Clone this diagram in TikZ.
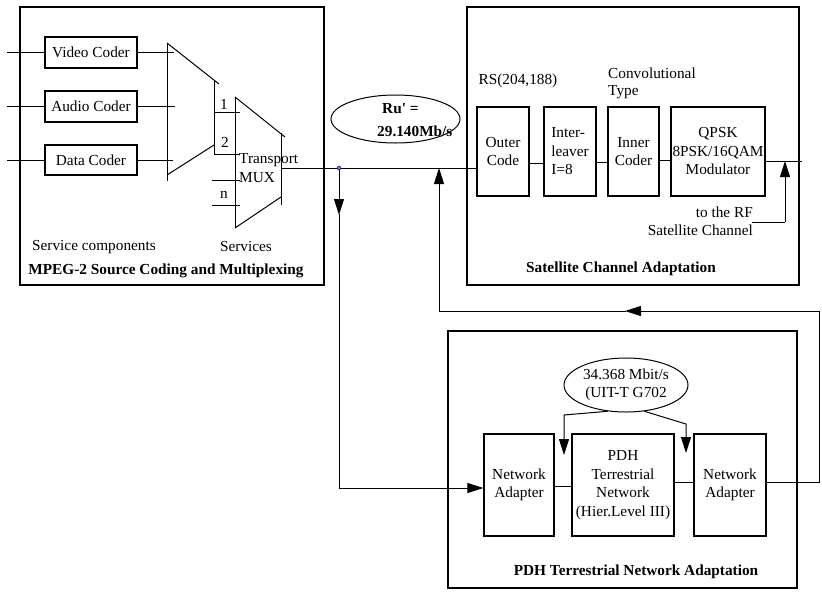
\documentclass[tikz,border=0pt]{standalone}
\usepackage{fontspec}
\setmainfont{Liberation Serif}
\usetikzlibrary{arrows.meta,shapes.geometric}
\begin{document}
\begin{tikzpicture}[x=1pt,y=-1pt,
 every node/.style={font=\fontsize{15.3}{18.5}\selectfont, inner sep=0pt},
 box/.style={draw, line width=1.2pt, align=center},
 frame/.style={draw, line width=1.3pt},
 ln/.style={line width=1pt},
 tip/.style={-{Triangle[length=16pt,width=10pt]}},
 bf/.style={font=\fontsize{15.3}{18.5}\selectfont\bfseries}]
\useasboundingbox (0,0) rectangle (822,592);

% frames
\node[frame, minimum width=304pt, minimum height=278pt] (fL) at (172,146) {};
\node[frame, minimum width=332pt, minimum height=278pt] (fS) at (633,146) {};
\node[frame, minimum width=349pt, minimum height=257pt] (fP) at (622.5,459.5) {};

% source coders
\node[box, minimum width=92pt, minimum height=31pt] (video) at (91,52.5) {Video Coder};
\node[box, minimum width=92pt, minimum height=31pt] (audio) at (91,106.5) {Audio Coder};
\node[box, minimum width=92pt, minimum height=30pt] (data) at (91,160) {Data Coder};
\coordinate (iv) at (7,52.5);
\coordinate (ia) at (7,106.5);
\coordinate (id) at (7,160);
\draw[ln] (iv) -- (video.west);
\draw[ln] (ia) -- (audio.west);
\draw[ln] (id) -- (data.west);
\draw[ln] (video.east) -- ++(36,0);
\draw[ln] (audio.east) -- ++(37,0);
\draw[ln] (data.east) -- ++(35,0);

% first multiplexer
\draw[ln] (167,43) -- (167,181);
\draw[ln] (167,43) -- (219,84);
\draw[ln] (214,80) -- (214,154);
\draw[ln] (167,175) -- (214,145);
\draw[ln] (214,112) -- (240,112);
\draw[ln] (214,154) -- (240,154);
% transport mux
\draw[ln] (235,97) -- (235,228);
\draw[ln] (235,97) -- (285,137);
\draw[ln] (281,133) -- (281,205);
\draw[ln] (235,228) -- (281,197);
\draw[ln] (212,180) -- (240,180);
\draw[ln] (212,205) -- (240,205);
\coordinate (muxout) at (281,168);

\node (n1) at (224,104) {1};
\node (n2) at (225,142) {2};
\node (nn) at (224,195) {n};
\node[anchor=west] (tr) at (239,160) {Transport};
\node[anchor=west] (mx) at (239,178) {MUX};
\node (sc) at (94,247) {Service components};
\node (sv) at (246,247) {Services};
\node[bf] (tL) at (166,271) {MPEG-2 Source Coding and Multiplexing};

% satellite chain
\node[box, minimum width=52pt, minimum height=89pt] (outer) at (503,151.5) {Outer\\Code};
\node[box, minimum width=52pt, minimum height=89pt, align=left] (inter) at (570,151.5) {Inter-\\leaver\\I=8};
\node[box, minimum width=51pt, minimum height=89pt] (inner) at (633.5,151.5) {Inner\\Coder};
\node[box, minimum width=94pt, minimum height=89pt] (qpsk) at (718,151.5) {QPSK\\8PSK/16QAM\\Modulator};
\node (rs) at (518,81) {RS(204,188)};
\node[anchor=west] (cv) at (608,73) {Convolutional};
\node[anchor=west] (ty) at (608,92) {Type};
\node[anchor=east] (rf1) at (753,212) {to the RF};
\node[anchor=east] (rf2) at (753,230) {Satellite Channel};
\node[bf] (tS) at (621,269) {Satellite Channel Adaptation};

\draw[ln] (outer.east |- 0,163) -- (inter.west |- 0,163);
\draw[ln] (inter.east |- 0,162) -- (inner.west |- 0,162);
\draw[ln] (inner.east |- 0,160) -- (qpsk.west |- 0,160);
\coordinate (sout) at (802,161);
\draw[ln] (qpsk.east |- sout) -- (sout);
\coordinate (rfa) at (752,222);
\coordinate (rfb) at (785,222);
\draw[ln] (rfa) -- (rfb);
\draw[ln,tip] (rfb) -- (785,161);

% main transport stream
\draw[ln] (muxout) -- (outer.west |- muxout);
\node[ellipse, draw, line width=1pt, minimum width=129pt, minimum height=48pt] (ru) at (395.5,119) {};
\node[bf, anchor=west] (ru1) at (382,109) {Ru\textquotesingle{} =};
\node[bf, anchor=west] (ru2) at (377,131) {29.140Mb/s};

\node[circle, draw=blue!50!black, fill=blue!55, inner sep=0pt, minimum size=4pt] (tap) at (339,168) {};
\coordinate (c1) at (339,488);
\draw[ln,tip] (tap) -- (339,215);
\draw[ln] (339,214) -- (c1);

% PDH block
\node[box, minimum width=70pt, minimum height=102pt] (naL) at (519,485) {Network\\Adapter};
\node[box, minimum width=102pt, minimum height=102pt] (pdh) at (623,485) {PDH\\Terrestrial\\Network\\(Hier.Level III)};
\node[box, minimum width=72pt, minimum height=102pt] (naR) at (730,485) {Network\\Adapter};
\node[ellipse, draw, line width=1pt, minimum width=124pt, minimum height=54pt, align=center] (rate) at (626,385) {34.368 Mbit/s\\(UIT-T G702};
\node[bf] (tP) at (636,572) {PDH Terrestrial Network Adaptation};

\draw[ln,tip] (c1) -- (naL.west |- c1);
\draw[ln] (naL.east |- 0,486) -- (pdh.west |- 0,486);
\draw[ln] (pdh.east |- 0,482) -- (naR.west |- 0,482);
\draw[ln,tip] (rate.235) -- (564,415) -- (564,455);
\draw[ln,tip] (rate.-55) -- (686,424) -- (686,453);

% return path
\coordinate (c4) at (819,482);
\coordinate (c3) at (819,311);
\coordinate (c2) at (439,311);
\draw[ln] (naR.east |- c4) -- (c4) -- (c3);
\draw[ln,tip] (c3) -- (625,311);
\draw[ln] (626,311) -- (c2);
\draw[ln,tip] (c2) -- (439,168);
\end{tikzpicture}
\end{document}
